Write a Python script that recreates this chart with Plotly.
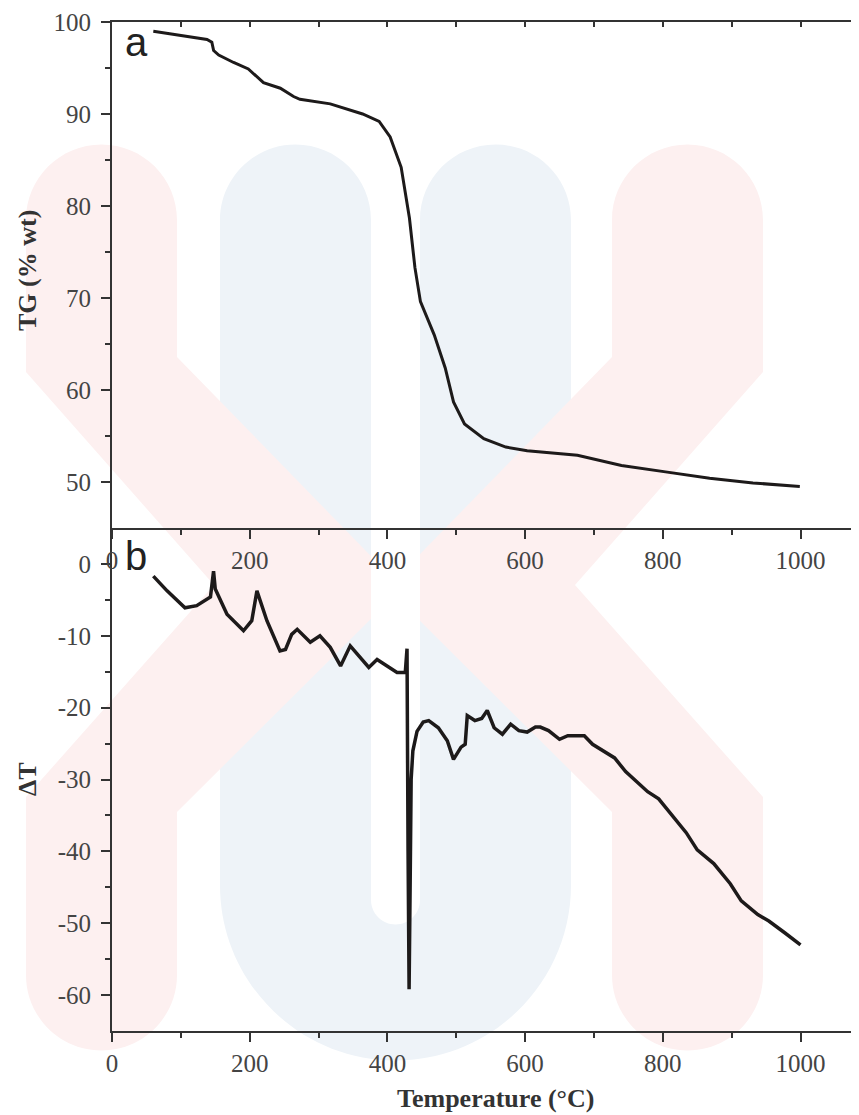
import plotly.graph_objects as go

# ---------------- data ----------------
tg_temp = [60, 85, 109, 138, 145, 147.6, 155, 176.6, 198, 210.6, 220, 244.5, 263.7, 273,
           317, 364, 388, 404, 420, 432, 440, 448, 468, 484, 496, 512, 540, 572, 603,
           676, 740, 804, 868, 931, 999]
tg_val = [99.0, 98.7, 98.4, 98.1, 97.8, 96.9, 96.4, 95.6, 94.9, 94.0, 93.4, 92.8, 91.9, 91.6,
          91.1, 90.0, 89.2, 87.5, 84.2, 78.7, 73.3, 69.6, 66.0, 62.4, 58.7, 56.3, 54.7, 53.8, 53.4,
          52.9, 51.8, 51.1, 50.4, 49.9, 49.5]

dta_temp = [60, 80, 106, 123, 143, 146, 147.5, 150, 167, 191, 203, 210.5, 225, 244, 252, 261,
            269, 288, 302, 317, 332, 346, 361, 373, 385, 404, 414, 426, 428.5, 430, 431.5, 433,
            434.5, 437, 443, 452, 460, 474, 487, 496, 507, 513, 516, 527, 537, 545, 555, 567,
            579, 591, 603, 615, 622, 634, 650, 662, 686, 698, 714, 730, 746, 762, 778, 794,
            810, 834, 850, 874, 898, 914, 938, 954, 978, 1000]
dta_val = [-1.7, -3.75, -6.1, -5.8, -4.6, -2.5, -1.0, -3.5, -7.0, -9.3, -7.9, -3.75, -7.9, -12.1,
           -11.9, -9.8, -9.1, -10.9, -10.0, -11.6, -14.2, -11.4, -13.0, -14.4, -13.3, -14.4,
           -15.1, -15.1, -11.8, -40.0, -59.2, -45.0, -30.0, -26.0, -23.3, -22.0, -21.8, -22.8,
           -24.6, -27.2, -25.5, -25.1, -21.1, -21.8, -21.5, -20.4, -22.8, -23.7, -22.3, -23.2,
           -23.4, -22.7, -22.7, -23.2, -24.4, -23.9, -23.9, -25.1, -26.0, -27.0, -28.9, -30.3,
           -31.7, -32.7, -34.6, -37.4, -39.8, -41.7, -44.5, -46.9, -48.8, -49.7, -51.4, -53.0]

x_ticks = [0, 200, 400, 600, 800, 1000]
x_minor = [100, 300, 500, 700, 900]
tg_ticks = [50, 60, 70, 80, 90, 100]
tg_minor = [55, 65, 75, 85, 95]
dta_ticks = [-60, -50, -40, -30, -20, -10, 0]
dta_labels = ["-60", "-50", "-40", "-30", "-20", "-10", "0"]
dta_minor = [-55, -45, -35, -25, -15, -5]

# ---------------- geometry (reference pixels; page body has an 8px margin) ----------------
OFF = 8
W, H = 859 - OFF, 1115 - OFF
ML, MR, MT, MB = 112 - OFF, 0, 22 - OFF, 84
PW, PH = W - ML - MR, H - MT - MB
SPLIT = 528 - OFF
split_frac = (H - MB - SPLIT) / PH

def pp(x, y):
    x, y = x - OFF, y - OFF
    return ((x - ML) / PW, (H - MB - y) / PH)

def path_from(cmds):
    out = []
    for c in cmds:
        op, pts = c[0], c[1:]
        out.append(op + " " + " ".join("%.5f,%.5f" % pp(*p) for p in pts))
    return " ".join(out) + " Z"

K = 0.5523
def top_arc(cx, cy, r):
    k = K * r
    return [("C", (cx - r, cy - k), (cx - k, cy - r), (cx, cy - r)),
            ("C", (cx + k, cy - r), (cx + r, cy - k), (cx + r, cy))]

def bottom_arc(cx, cy, r):
    k = K * r
    return [("C", (cx + r, cy + k), (cx + k, cy + r), (cx, cy + r)),
            ("C", (cx - k, cy + r), (cx - r, cy + k), (cx - r, cy))]

def mirror(cmds, m):
    return [(c[0],) + tuple((m - p[0], p[1]) for p in c[1:]) for c in cmds]

PINK = "rgb(253,240,240)"
BLUE = "rgb(238,243,248)"

blue = [("M", (220, 220))] + top_arc(295.5, 220, 75.5) + [("L", (371, 220)), ("L", (420, 220))] \
    + top_arc(495.5, 220, 75.5) + [("L", (571, 885))] + bottom_arc(395.5, 885, 175.5)
pinkL = [("M", (26, 220))] + top_arc(101.5, 220, 75.5) + [
    ("L", (177, 357)), ("L", (402, 588)), ("L", (177, 812)), ("L", (177, 975))] \
    + bottom_arc(101.5, 975, 75.5) + [("L", (26, 797)), ("L", (214, 585)), ("L", (26, 372))]
pinkR = mirror(pinkL, 789)
slot = [("M", (371, 200)), ("L", (420, 200)), ("L", (420, 900))] + bottom_arc(395.5, 900, 24.5)

shapes = []
for cmds, col in [(blue, BLUE), (pinkL, PINK), (pinkR, PINK), (slot, "white")]:
    shapes.append(dict(type="path", xref="paper", yref="paper", layer="below",
                       path=path_from(cmds), fillcolor=col, line=dict(width=0)))

LINE = "#1d1a1a"
fig = go.Figure()
fig.add_trace(go.Scatter(x=tg_temp, y=tg_val, mode="lines", xaxis="x2", yaxis="y2",
                         line=dict(color=LINE, width=3), showlegend=False))
fig.add_trace(go.Scatter(x=dta_temp, y=dta_val, mode="lines", xaxis="x", yaxis="y",
                         line=dict(color=LINE, width=3.5), showlegend=False))
fig.add_trace(go.Scatter(x=[None], y=[None], xaxis="x3", yaxis="y2", showlegend=False))

AX = "#333333"
TICKFONT = dict(family="Liberation Serif, Times New Roman, serif", size=25, color="#444444")
XR = [0, PW / 0.6885]

def xax(**kw):
    d = dict(range=XR, tickmode="array", tickvals=x_ticks, ticks="outside", ticklen=9,
             tickwidth=2, tickcolor=AX, showline=True, linecolor=AX, linewidth=2,
             showgrid=False, zeroline=False, tickfont=TICKFONT, ticklabelstandoff=0,
             minor=dict(tickvals=x_minor, ticks="outside", ticklen=5, tickwidth=2, tickcolor=AX))
    d.update(kw)
    return d

def yax(rng, tv, tt, mv, **kw):
    d = dict(range=rng, tickmode="array", tickvals=tv, ticktext=tt, ticks="outside", ticklen=9,
             tickwidth=2, tickcolor=AX, showline=True, linecolor=AX, linewidth=2,
             showgrid=False, zeroline=False, tickfont=TICKFONT, ticklabelstandoff=5,
             minor=dict(tickvals=mv, ticks="outside", ticklen=5, tickwidth=2, tickcolor=AX))
    d.update(kw)
    return d

fig.update_layout(
    width=W, height=H, margin=dict(l=ML, r=MR, t=MT, b=MB, pad=0),
    paper_bgcolor="white", plot_bgcolor="rgba(0,0,0,0)", showlegend=False,
    shapes=shapes,
    xaxis=xax(anchor="y", domain=[0, 1]),
    xaxis2=xax(anchor="y2", domain=[0, 1], matches="x"),
    xaxis3=dict(overlaying="x2", anchor="y2", side="top", range=XR, tickvals=x_ticks,
                ticks="inside", ticklen=5, tickwidth=2, tickcolor=AX, showline=True,
                linecolor=AX, linewidth=2, showgrid=False, zeroline=False,
                showticklabels=False,
                minor=dict(tickvals=x_minor, ticks="inside", ticklen=5, tickwidth=2,
                           tickcolor=AX)),
    yaxis=yax([-65, 5], dta_ticks, dta_labels, dta_minor, anchor="x", domain=[0, split_frac]),
    yaxis2=yax([45, 100], tg_ticks, [str(v) for v in tg_ticks], tg_minor, anchor="x2",
               domain=[split_frac, 1]),
)

TITLEFONT = dict(family="Liberation Serif, Times New Roman, serif", size=26, color="#333333")
def ann(text, x, y, font, **kw):
    px, py = pp(x, y)
    d = dict(text=text, x=px, y=py, xref="paper", yref="paper", showarrow=False, font=font)
    d.update(kw)
    fig.add_annotation(**d)

ann("<b>TG (% wt)</b>", 27, 271, TITLEFONT, textangle=-90, xanchor="center", yanchor="middle")
ann("<b>ΔT</b>", 27, 779, TITLEFONT, textangle=-90, xanchor="center", yanchor="middle")
ann("<b>Temperature (°C)</b>", 495, 1098, TITLEFONT, xanchor="center", yanchor="middle")
LABF = dict(family="Liberation Sans, Arial, sans-serif", size=40, color="#222222")
ann("a", 123, 42, LABF, xanchor="left", yanchor="middle")
ann("b", 123, 556, LABF, xanchor="left", yanchor="middle")

fig.write_html("out.html")
